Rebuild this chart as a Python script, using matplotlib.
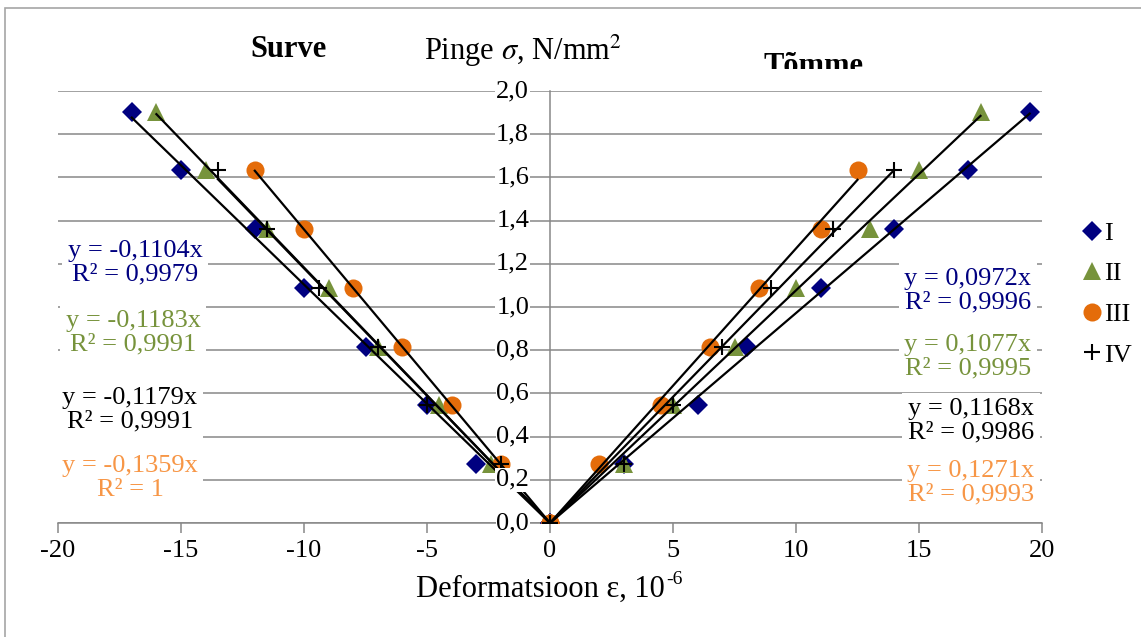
import numpy as np
import matplotlib
matplotlib.use("Agg")
from matplotlib import pyplot as plt
from matplotlib.patches import Rectangle

plt.rcParams['font.family'] = ['Liberation Serif', 'DejaVu Serif']
plt.rcParams['mathtext.fontset'] = 'stix'
plt.rcParams['axes.unicode_minus'] = False

# load levels, N/mm2
stress = [0, 0.272, 0.544, 0.816, 1.088, 1.36, 1.632, 1.904]

# compression side (negative strain), 10^-6
surve_I = [0, -3, -5, -7.5, -10, -12, -15, -17]
surve_II = [0, -2.4, -4.5, -7, -9, -11.5, -14, -16]
surve_III = [0, -2, -4, -6, -8, -10, -12]
surve_IV = [0, -2, -5, -7, -9.4, -11.5, -13.5]

# tension side
tomme_I = [0, 3, 6, 8, 11, 14, 17, 19.5]
tomme_II = [0, 3, 5, 7.5, 10, 13, 15, 17.5]
tomme_III = [0, 2, 4.5, 6.5, 8.5, 11, 12.5]
tomme_IV = [0, 3, 5, 7, 9, 11.5, 14]

# linear fits through origin, series I..IV
slopes_surve = [-0.1104, -0.1183, -0.1359, -0.1179]
r2_surve = ["0,9979", "0,9991", "1", "0,9991"]
slopes_tomme = [0.0972, 0.1077, 0.1271, 0.1168]
r2_tomme = ["0,9996", "0,9995", "0,9993", "0,9986"]

names = ["I", "II", "III", "IV"]
markers = ["D", "^", "o", "+"]
msizes = [10, 13, 13, 12]
colors = ["#000080", "#77933C", "#E46C0A", "black"]
text_colors = ["#000080", "#77933C", "#F79646", "black"]
W, H = 1141, 637


def fx(px):
    return px / W


def fy(py):
    return 1 - py / H


fig = plt.figure(figsize=(W / 100, H / 100), dpi=100)
ax = fig.add_axes([fx(58), fy(523), fx(1042) - fx(58), fy(91) - fy(523)])
ax.set_xlim(-20, 20)
ax.set_ylim(0, 2.0)

grey = "#878787"
ax.spines['top'].set_visible(False)
ax.spines['right'].set_visible(False)
ax.spines['left'].set_position(('data', 0))
ax.spines['left'].set_color(grey)
ax.spines['left'].set_linewidth(1.1)
ax.spines['bottom'].set_color(grey)
ax.spines['bottom'].set_linewidth(1.1)

yt = np.arange(0, 2.01, 0.2)
ax.set_yticks(yt)
ax.tick_params(axis='y', length=0, labelleft=False)
ax.yaxis.grid(True, color=grey, lw=1.1)
ax.set_xticks(np.arange(-20, 21, 5))
ax.tick_params(axis='x', direction='out', length=7, width=1.1, color=grey,
               labelsize=19, pad=5)

# y tick labels drawn as texts so they sit on top of the data
for v in yt:
    ax.text(-0.85, v, f"{v:.1f}".replace(".", ","), ha='right', va='center',
            fontsize=19, zorder=10,
            bbox=dict(facecolor='white', edgecolor='none', pad=0.5))

surve = [surve_I, surve_II, surve_III, surve_IV]
tomme = [tomme_I, tomme_II, tomme_III, tomme_IV]
for i in range(4):
    kw = dict(marker=markers[i], ms=msizes[i], color=colors[i], ls='none',
              mew=1.5 if markers[i] == '+' else 0, zorder=3 + i * 0.1)
    xs = surve[i] + tomme[i]
    ys = stress[:len(surve[i])] + stress[:len(tomme[i])]
    ax.plot(xs, ys, label=names[i], **kw)

# trend lines over the markers
for i in range(4):
    xl = np.array([min(surve[i]), 0])
    ax.plot(xl, slopes_surve[i] * xl, color='black', lw=1.6, zorder=5)
    xr = np.array([0, max(tomme[i])])
    ax.plot(xr, slopes_tomme[i] * xr, color='black', lw=1.6, zorder=5)

# trend line equations, stacked in the order I, II, IV, III
order = [0, 1, 3, 2]
left_pos = [(135, 263), (133, 333), (130, 410), (130, 478)]
right_pos = [(968, 291), (968, 357), (971, 421), (971, 483)]
for k, i in enumerate(order):
    s = f"{slopes_surve[i]:.4f}".replace(".", ",")
    fig.text(fx(left_pos[k][0]), fy(left_pos[k][1]),
             f"y = {s}x\nR² = {r2_surve[i]}", ha='center', va='center',
             fontsize=19, color=text_colors[i], linespacing=1.1,
             bbox=dict(facecolor='white', edgecolor='none', pad=4))
    s = f"{slopes_tomme[i]:.4f}".replace(".", ",")
    fig.text(fx(right_pos[k][0]), fy(right_pos[k][1]),
             f"y = {s}x\nR² = {r2_tomme[i]}", ha='center', va='center',
             fontsize=19, color=text_colors[i], linespacing=1.1,
             bbox=dict(facecolor='white', edgecolor='none', pad=4))

fig.text(fx(289), fy(57), "Surve", ha='center', va='baseline',
         fontsize=22, fontweight='bold')
fig.text(fx(523), fy(60), r"Pinge $\sigma$, N/mm$^2$", ha='center',
         va='baseline', fontsize=22)
fig.text(fx(813), fy(74), "Tõmme", ha='center', va='baseline',
         fontsize=22, fontweight='bold')
# plot area top edge hides the lower part of the right title
fig.patches.append(Rectangle((fx(700), fy(89)), fx(250), fy(69) - fy(89),
                             transform=fig.transFigure, facecolor='white',
                             edgecolor='none', zorder=5))

# x axis title with a plain hyphen in the exponent
renderer = fig.canvas.get_renderer()
main = fig.text(0, fy(597), "Deformatsioon ε, 10", ha='left',
                va='baseline', fontsize=22)
sup = fig.text(0, fy(607), "-6", ha='left', va='baseline', fontsize=14)
w1 = main.get_window_extent(renderer).width
w2 = sup.get_window_extent(renderer).width
x0 = 549 - (w1 + w2) / 2
main.set_x(fx(x0))
sup.set_x(fx(x0 + w1 + 1))
sup.set_y(fy(584))

leg = fig.legend(loc='center left', bbox_to_anchor=(fx(1070), fy(294)),
                 frameon=False, fontsize=19, handlelength=0.7,
                 handletextpad=0.1, labelspacing=0.65, borderpad=0)

# chart border
fig.patches.append(Rectangle((fx(5), -0.2), 1.2, fy(8) + 0.2,
                             transform=fig.transFigure, facecolor='none',
                             edgecolor='#A6A6A6', lw=1.2, zorder=0))

fig.savefig("out.png", dpi=100)
